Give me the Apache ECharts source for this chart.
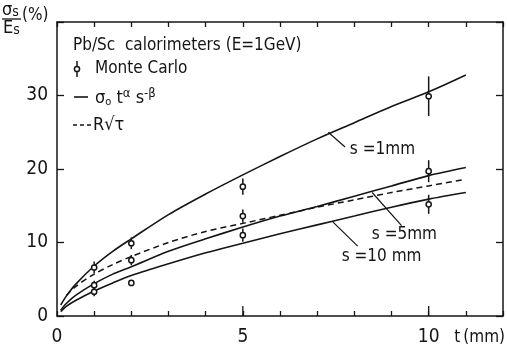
<!DOCTYPE html>
<html>
<head>
<meta charset="utf-8">
<script src="https://cdn.jsdelivr.net/npm/echarts@6/dist/echarts.min.js"></script>
<style>
  html, body { margin: 0; padding: 0; background: #fff; }
  #chart { width: 507px; height: 347px; }
</style>
</head>
<body>
<div id="chart"></div>
<script>
// Sampling thickness t (mm) for the calculated curves
var tGrid = [0.1, 0.25, 0.5, 1, 1.5, 2, 3, 4, 5, 6, 7, 8, 9, 10, 11];
// sigma_0 t^alpha s^-beta for three scintillator thicknesses s
var fitS1  = [1.5, 2.7, 4.3, 6.8, 8.8, 10.5, 13.8, 16.6, 19.2, 21.7, 24.1, 26.3, 28.5, 30.5, 32.8];
var fitS5  = [0.8, 1.7, 2.8, 4.4, 5.7, 6.7, 8.8, 10.5, 12.1, 13.6, 14.9, 16.3, 17.7, 19.1, 20.2];
var fitS10 = [0.6, 1.3, 2.1, 3.4, 4.5, 5.5, 7.1, 8.6, 9.9, 11.2, 12.4, 13.6, 14.8, 15.9, 16.8];
// R * sqrt(tau)
var tRoot  = [0.25, 0.5, 1, 1.5, 2, 3, 4, 5, 6, 7, 8, 9, 10, 11];
var rootTau = [2.8, 4.0, 5.7, 7.0, 8.1, 10.0, 11.5, 12.6, 13.7, 14.8, 15.8, 16.8, 17.7, 18.6];

// Monte Carlo results with their errors
var mcT   = [1, 1, 1, 2, 2, 2, 5, 5, 5, 10, 10, 10];
var mcVal = [6.6, 4.2, 3.3, 9.9, 7.6, 4.5, 17.6, 13.6, 11.0, 29.9, 19.7, 15.2];
var mcErr = [0.8, 0.6, 0.6, 0.8, 0.7, 0, 1.1, 0.9, 0.9, 2.7, 1.5, 1.3];

// Axis ticks
var xLabelTicks = [0, 5, 10];
var xLongTicks = [5, 10];
var yLabelTicks = [0, 10, 20, 30];

var INK = '#151515';
var FONT = "'Liberation Sans Narrow', 'DejaVu Sans Condensed', 'Roboto', sans-serif";

function pairs(xs, ys) { return xs.map(function (x, i) { return [x, ys[i]]; }); }

var chart = echarts.init(document.getElementById('chart'), null, { renderer: 'canvas' });

var curveStyle = { color: INK, width: 1.6 };

var axisLine = { show: true, onZero: false, lineStyle: { color: INK, width: 1.5 } };
var tickStyle = { color: INK, width: 1.3 };

function curve(name, xs, ys, dashed) {
  return {
    name: name, type: 'line', data: pairs(xs, ys), showSymbol: false, symbol: 'none',
    smooth: 0.3, silent: true,
    lineStyle: dashed ? { color: INK, width: 1.5, type: [6, 4] } : curveStyle
  };
}

chart.setOption({
  backgroundColor: '#fff',
  animation: false,
  grid: { left: 57, right: 4, top: 22, bottom: 26 },
  title: {
    text: 'Pb/Sc  calorimeters (E=1GeV)',
    left: 68, top: 32,
    textStyle: { fontFamily: FONT, fontSize: 17, fontWeight: 'normal', color: INK }
  },
  xAxis: [{
    type: 'value', position: 'bottom', min: 0, max: 12, interval: 1,
    axisLine: axisLine,
    axisTick: { show: true, inside: true, length: 5, lineStyle: tickStyle },
    splitLine: { show: false },
    axisLabel: {
      margin: 12, fontFamily: FONT, fontSize: 19, color: INK,
      formatter: function (v) { return xLabelTicks.indexOf(v) >= 0 ? String(v) : ''; }
    }
  }, {
    type: 'value', position: 'top', min: 0, max: 12, interval: 1,
    axisLine: axisLine,
    axisTick: { show: true, inside: true, length: 5, lineStyle: tickStyle },
    splitLine: { show: false },
    axisLabel: { show: false }
  }],
  yAxis: [{
    type: 'value', position: 'left', min: 0, max: 40, interval: 10,
    axisLine: axisLine,
    axisTick: { show: true, inside: true, length: 7, lineStyle: tickStyle },
    splitLine: { show: false },
    axisLabel: {
      margin: 9, fontFamily: FONT, fontSize: 19, color: INK,
      formatter: function (v) { return yLabelTicks.indexOf(v) >= 0 ? String(v) : ''; }
    }
  }, {
    type: 'value', position: 'right', min: 0, max: 40, interval: 10,
    axisLine: axisLine,
    axisTick: { show: true, inside: true, length: 7, lineStyle: tickStyle },
    splitLine: { show: false },
    axisLabel: { show: false }
  }],
  series: [
    curve('s=1mm', tGrid, fitS1),
    curve('s=5mm', tGrid, fitS5),
    curve('s=10mm', tGrid, fitS10),
    curve('Rsqrt', tRoot, rootTau, true),
    {
      // longer ticks at the labelled thicknesses
      name: 'majorTicks', type: 'custom', silent: true,
      data: xLongTicks.map(function (v) { return [v]; }),
      encode: { x: 0 },
      renderItem: function (params, api) {
        var p = api.coord([api.value(0), 0]);
        return { type: 'line', shape: { x1: p[0], y1: p[1], x2: p[0], y2: p[1] - 10 },
                 style: { stroke: INK, lineWidth: 1.3 } };
      }
    },
    {
      name: 'Monte Carlo', type: 'custom', silent: true, z: 5,
      data: mcT.map(function (t, i) { return [t, mcVal[i], mcErr[i]]; }),
      encode: { x: 0, y: 1 },
      renderItem: function (params, api) {
        var t = api.value(0), v = api.value(1), e = api.value(2);
        var c = api.coord([t, v]);
        var children = [];
        if (e > 0) {
          var hi = api.coord([t, v + e]), lo = api.coord([t, v - e]);
          children.push({ type: 'line', shape: { x1: c[0], y1: hi[1], x2: c[0], y2: lo[1] },
                          style: { stroke: INK, lineWidth: 1.5 } });
        }
        children.push({ type: 'circle', shape: { cx: c[0], cy: c[1], r: 2.6 },
                        style: { fill: '#fff', stroke: INK, lineWidth: 1.5 } });
        return { type: 'group', children: children };
      }
    }
  ]
});

// Curve labels with pointer lines, placed in data coordinates
var curveNotes = [
  { text: 's =1mm',  from: [7.3, 25.0],  to: [7.75, 23.0], at: [7.88, 22.7] },
  { text: 's =5mm',  from: [8.48, 16.8], to: [9.27, 12.3], at: [8.47, 11.1] },
  { text: 's =10 mm', from: [7.42, 12.8], to: [8.09, 9.5], at: [7.66, 8.1] }
];

function px(pt) { return chart.convertToPixel({ gridIndex: 0 }, pt); }

var g = [];
curveNotes.forEach(function (n) {
  var a = px(n.from), b = px(n.to), c = px(n.at);
  g.push({ type: 'line', shape: { x1: a[0], y1: a[1], x2: b[0], y2: b[1] },
           style: { stroke: INK, lineWidth: 1.2 }, silent: true });
  g.push({ type: 'text', x: c[0], y: c[1], silent: true,
           style: { text: n.text, fill: INK, font: '17px ' + FONT, textVerticalAlign: 'middle' } });
});

// Key
g.push({ type: 'line', shape: { x1: 77, y1: 61, x2: 77, y2: 77 }, style: { stroke: INK, lineWidth: 1.5 } });
g.push({ type: 'circle', shape: { cx: 77, cy: 69, r: 2.6 }, style: { fill: '#fff', stroke: INK, lineWidth: 1.5 } });
g.push({ type: 'text', x: 95, y: 69,
         style: { text: 'Monte Carlo', fill: INK, font: '17px ' + FONT, textVerticalAlign: 'middle' } });
g.push({ type: 'line', shape: { x1: 74, y1: 97, x2: 88, y2: 97 }, style: { stroke: INK, lineWidth: 1.6 } });
g.push({ type: 'text', x: 95, y: 98, style: {
  rich: {
    b: { fontFamily: FONT, fontSize: 18, fill: INK },
    sub: { fontFamily: FONT, fontSize: 11, fill: INK, padding: [8, 0, 0, 0] },
    sup: { fontFamily: FONT, fontSize: 13, fill: INK, padding: [0, 0, 9, 0] }
  },
  text: '{b|σ}{sub|o}{b| t}{sup|α}{b| s}{sup|-β}',
  textVerticalAlign: 'middle'
} });
g.push({ type: 'line', shape: { x1: 73, y1: 125, x2: 91, y2: 125 },
         style: { stroke: INK, lineWidth: 1.5, lineDash: [4, 3] } });
g.push({ type: 'text', x: 93, y: 125,
         style: { text: 'R√τ', fill: INK, font: '18px ' + FONT, textVerticalAlign: 'middle' } });

// Axis titles
var fracRich = {
  b: { fontFamily: FONT, fontSize: 18, fill: INK },
  s: { fontFamily: FONT, fontSize: 14, fill: INK, padding: [4, 0, 0, 0] }
};
g.push({ type: 'text', x: 2, y: 1, style: { rich: fracRich, text: '{b|σ}{s|s}' } });
g.push({ type: 'line', shape: { x1: 2, y1: 19, x2: 21, y2: 19 }, style: { stroke: INK, lineWidth: 1.3 } });
g.push({ type: 'text', x: 3, y: 19, style: { rich: fracRich, text: '{b|E}{s|s}' } });
g.push({ type: 'text', x: 22, y: 7, style: { text: '(%)', fill: INK, font: '17px ' + FONT } });
g.push({ type: 'text', right: 2, y: 329,
         style: { text: 't\u2009(mm)', fill: INK, font: '17px ' + FONT } });

chart.setOption({ graphic: g });
</script>
</body>
</html>
